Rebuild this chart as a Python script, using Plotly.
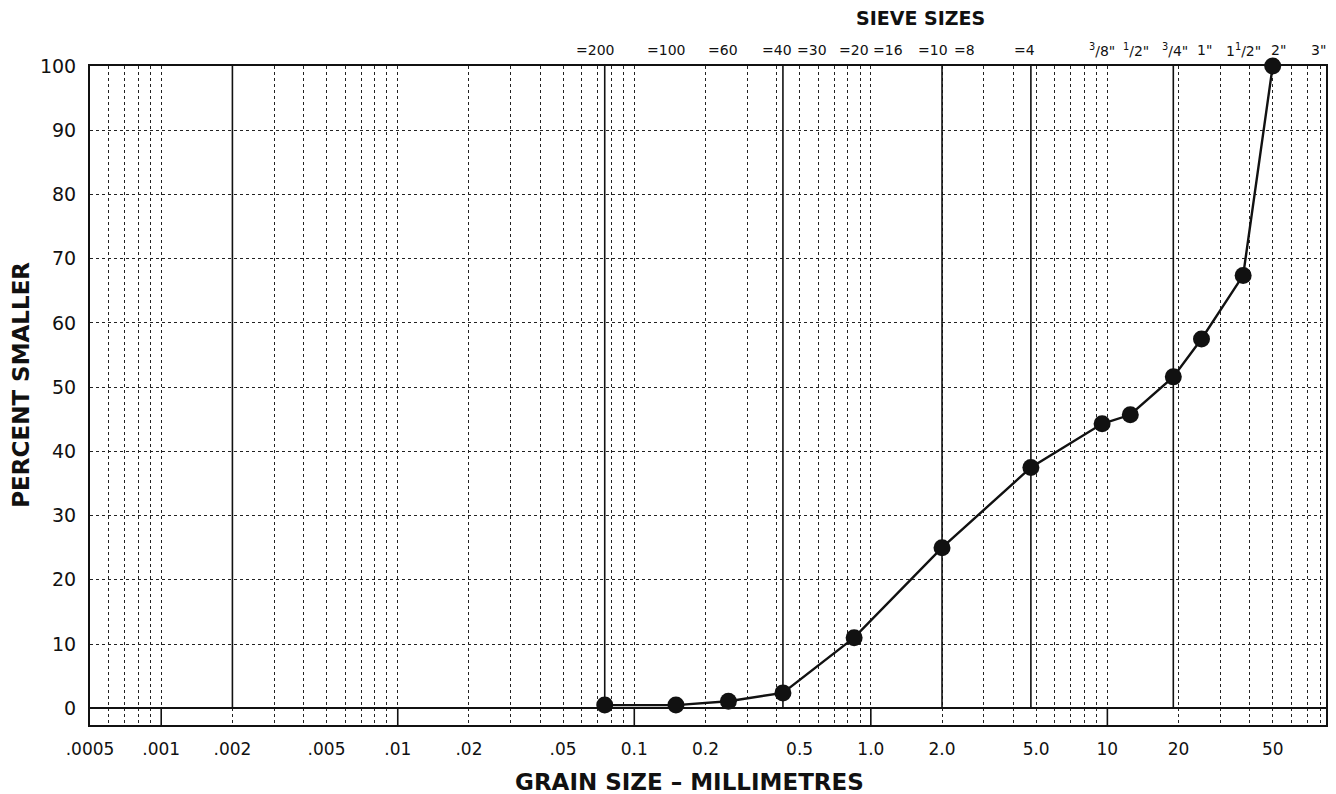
import numpy as np
import plotly.graph_objects as go

# ---- data ----
grain_mm = [0.075, 0.15, 0.25, 0.425, 0.85, 2.0, 4.75, 9.5, 12.5, 19.0, 25.0, 37.5, 50.0]
percent_smaller = [0.5, 0.5, 1.1, 2.4, 11.0, 25.0, 37.5, 44.3, 45.7, 51.6, 57.5, 67.4, 100.0]

sieve_mm = [0.075, 0.15, 0.25, 0.425, 0.6, 0.85, 1.18, 2.0, 2.36, 4.75,
            9.5, 12.5, 19.0, 25.0, 37.5, 50.0, 75.0]
sieve_labels = ["=200", "=100", "=60", "=40", "=30", "=20", "=16", "=10", "=8", "=4",
                "<sup>3</sup>/8\"", "<sup>1</sup>/2\"", "<sup>3</sup>/4\"", "1\"",
                "1<sup>1</sup>/2\"", "2\"", "3\""]

size_ticks = [0.0005, 0.001, 0.002, 0.005, 0.01, 0.02, 0.05, 0.1, 0.2, 0.5,
              1, 2, 5, 10, 20, 50]
size_tick_labels = [".0005", ".001", ".002", ".005", ".01", ".02", ".05", "0.1", "0.2",
                    "0.5", "1.0", "2.0", "5.0", "10", "20", "50"]

percent_ticks = [0, 10, 20, 30, 40, 50, 60, 70, 80, 90, 100]

boundary_mm = [0.002, 0.075, 0.425, 2.0, 4.75, 19.0]   # solid class boundaries
decade_mm = [0.001, 0.01, 0.1, 1.0, 10.0]              # solid dividers in bottom strip

# ---- styling / placement (not data) ----
sieve_label_xshift = [-10, -10, -5, -6, -6, 0, 0, -9, 5, -6, 0, 6, 2, 3, 0, 6, 4]

x_min, x_max = 0.0005, 84.0
y_min, y_max = -2.6, 100.0

# log-cycle grid positions (1..9 x 10^n)
grid_mm = [k * 10.0 ** n for n in range(-4, 2) for k in range(1, 10)]
grid_mm = [v for v in grid_mm if x_min < v < x_max]

FONT = "DejaVu Sans, Liberation Sans, Arial, sans-serif"
INK = "#111111"

fig = go.Figure()

def vlines(xs, y0, y1):
    xx, yy = [], []
    for v in xs:
        xx += [v, v, None]
        yy += [y0, y1, None]
    return xx, yy

bx, by = vlines(boundary_mm, 0, y_max)
fig.add_trace(go.Scatter(x=bx, y=by, mode="lines", line=dict(color=INK, width=1.6),
                         hoverinfo="skip", showlegend=False))
dx, dy = vlines(decade_mm, y_min, 0)
fig.add_trace(go.Scatter(x=dx, y=dy, mode="lines", line=dict(color=INK, width=1.6),
                         hoverinfo="skip", showlegend=False))

fig.add_trace(go.Scatter(x=grain_mm, y=percent_smaller, mode="lines+markers",
                         line=dict(color=INK, width=2.4),
                         marker=dict(color=INK, size=17),
                         cliponaxis=False, showlegend=False))

xr = [np.log10(x_min), np.log10(x_max)]

annotations = [
    dict(text=lab, x=np.log10(v), xref="x", y=1, yref="paper",
         xanchor="center", yanchor="middle", yshift=16, xshift=sh,
         showarrow=False, font=dict(size=14))
    for v, lab, sh in zip(sieve_mm, sieve_labels, sieve_label_xshift)
]
annotations += [
    dict(text="<b>SIEVE SIZES</b>", xref="paper", yref="paper",
         x=0.672, y=1.073, xanchor="center", yanchor="middle",
         showarrow=False, font=dict(size=19)),
    dict(text="<b>GRAIN SIZE – MILLIMETRES</b>", xref="paper", yref="paper",
         x=0.485, y=-0.087, xanchor="center", yanchor="middle",
         showarrow=False, font=dict(size=23)),
    dict(text="<b>PERCENT SMALLER</b>", xref="paper", yref="paper",
         x=-0.056, y=0.516, xanchor="center", yanchor="middle", textangle=-90,
         showarrow=False, font=dict(size=23)),
]

# page body adds an 8px offset, so the figure is shrunk/margins shifted by 8px
fig.update_layout(
    width=1328, height=786,
    margin=dict(l=82, r=10, t=58, b=69),
    paper_bgcolor="white", plot_bgcolor="white",
    font=dict(family=FONT, color=INK),
    xaxis=dict(
        type="log", range=xr, automargin=False,
        tickmode="array", tickvals=size_ticks, ticktext=size_tick_labels,
        tickfont=dict(size=17), ticks="", ticklabelstandoff=8, tickangle=0,
        showgrid=True, gridcolor="#222", griddash="dot", gridwidth=1.2,
        minor=dict(tickmode="array", tickvals=grid_mm, showgrid=True,
                   gridcolor="#222", griddash="dot", gridwidth=1.2, ticks=""),
        showline=True, linecolor=INK, linewidth=2, mirror=True,
        zeroline=False,
    ),
    yaxis=dict(
        range=[y_min, y_max], automargin=False,
        tickmode="array", tickvals=percent_ticks,
        tickfont=dict(size=19), ticks="", ticklabelstandoff=8,
        showgrid=True, gridcolor="#222", griddash="dot", gridwidth=1.2,
        zeroline=True, zerolinecolor=INK, zerolinewidth=1.8,
        showline=True, linecolor=INK, linewidth=2, mirror=True,
    ),
    annotations=annotations,
)

fig.write_html("out.html")
